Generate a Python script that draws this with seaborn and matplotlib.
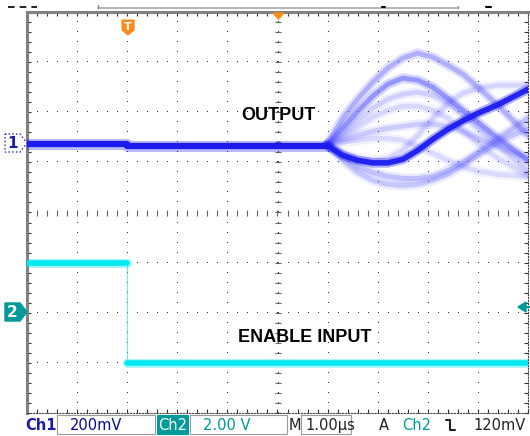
import numpy as np
import pandas as pd
import matplotlib
matplotlib.use('Agg')
import matplotlib.pyplot as plt
from matplotlib.patches import Polygon, Rectangle
import seaborn as sns

# scope settings
CH1_SCALE = 200.0      # mV/div
CH1_OFFSET = 1.36      # div (ground marker "1")
CH2_SCALE = 2.0        # V/div
CH2_OFFSET = -2.0      # div (ground marker "2")

# Ch1 OUTPUT: flat part (all sweeps overlap), time in us from trigger
T_FLAT = [-2.0, 0.0, 0.0, 4.0]
MV_FLAT = [2, 2, -6, -6]

# Ch1 OUTPUT: persistence sweeps after the response starts
T_RESP = [4.0, 4.3, 4.6, 4.9, 5.2, 5.5, 5.8, 6.1, 6.4, 6.7, 7.0, 7.4, 8.0]
sweeps = {
    'main': [-6, -44, -64, -74, -74, -60, -24, 20, 60, 94, 124, 158, 220],
    'a': [0, 104, 180, 248, 304, 344, 364, 348, 316, 280, 228, 156, 36],
    'b': [0, 64, 132, 192, 240, 264, 256, 228, 184, 136, 88, 24, -64],
    'c': [0, 40, 96, 144, 180, 200, 208, 196, 164, 116, 64, -4, -104],
    'd': [0, 28, 68, 108, 136, 152, 152, 136, 104, 56, 4, -56, -124],
    'e': [0, 16, 36, 52, 64, 72, 80, 80, 72, 52, 24, -8, -56],
    'f': [0, -48, -88, -112, -128, -136, -136, -128, -104, -72, -32, 24, 104],
    'g': [0, -64, -112, -144, -160, -164, -160, -144, -120, -84, -44, 8, 64],
    'h': [0, 8, 16, 24, 24, 16, -8, -36, -64, -88, -108, -120, -128],
    'i': [0, -32, -56, -64, -56, -24, 36, 104, 164, 204, 224, 236, 236],
}
sweep_alpha = {'main': 0.95, 'a': 0.32, 'b': 0.45, 'c': 0.18, 'd': 0.15,
               'e': 0.2, 'f': 0.25, 'g': 0.22, 'h': 0.14, 'i': 0.16}

# Ch2 ENABLE INPUT
T_EN = [-2.0, 0.0, 0.0, 8.0]
V_EN = [2.0, 2.0, -2.0, -2.0]
SEG_EN = [0, 0, 1, 1]

BLUE = '#1c1cf0'
FAINT = '#4a4aff'
CYAN = '#00e8f2'
TEAL = '#009a9a'
ORANGE = '#ff8a1c'

sns.set_style('white')
plt.rcParams['font.family'] = ['DejaVu Sans']

fig = plt.figure(figsize=(5.30, 4.36), dpi=100)
W, H = 530, 436
ax = fig.add_axes([27 / W, (H - 413) / H, 501 / W, 401 / H])
ax.set_xlim(-2, 8)
ax.set_ylim(-4, 4)

# graticule: dotted division lines
xs_major = np.arange(-2, 8.01, 1.0)
ys_major = np.arange(-4, 4.01, 1.0)
fine_x = np.arange(-2, 8.01, 0.2)
fine_y = np.arange(-4, 4.01, 0.2)
for xv in xs_major[1:-1]:
    ax.plot(np.full_like(fine_y, xv), fine_y, ',', color='#333333', zorder=1)
for yv in ys_major[1:-1]:
    ax.plot(fine_x, np.full_like(fine_x, yv), ',', color='#333333', zorder=1)
# centre cross with small ticks
ax.plot(np.full_like(fine_y, 3.0), fine_y, '_', ms=4, mew=0.8, color='#666666', zorder=1)
ax.plot(fine_x, np.zeros_like(fine_x), '|', ms=4, mew=0.8, color='#666666', zorder=1)

ax.set_xticks(fine_x, minor=True)
ax.set_yticks(fine_y, minor=True)
ax.set_xticks([])
ax.set_yticks([])
ax.tick_params(which='minor', direction='in', length=3, width=0.8, color='#333333',
               top=True, right=True, bottom=True, left=True,
               labelbottom=False, labelleft=False)
for side in ['left', 'top']:
    ax.spines[side].set_color('#808080')
    ax.spines[side].set_linewidth(2.2)
for side in ['right', 'bottom']:
    ax.spines[side].set_color('#444444')
    ax.spines[side].set_linewidth(0.8)
    ax.spines[side].set_linestyle(':')

# Ch1 traces
rows = []
for name, vals in sweeps.items():
    for t, mv in zip(T_RESP, vals):
        rows.append({'sweep': name, 't': t, 'div': CH1_OFFSET + mv / CH1_SCALE})
df_out = pd.DataFrame(rows)
df_flat = pd.DataFrame({'t': T_FLAT, 'div': [CH1_OFFSET + m / CH1_SCALE for m in MV_FLAT]})

for name in sweeps:
    if name == 'main':
        continue
    d = df_out[df_out['sweep'] == name]
    a = sweep_alpha[name]
    sns.lineplot(data=d, x='t', y='div', sort=False, estimator=None, color=FAINT,
                 alpha=a * 0.5, lw=7, ax=ax, zorder=3, solid_joinstyle='round')
    sns.lineplot(data=d, x='t', y='div', sort=False, estimator=None, color=FAINT,
                 alpha=a, lw=3.5, ax=ax, zorder=3, solid_joinstyle='round')
d = df_out[df_out['sweep'] == 'main']
sns.lineplot(data=d, x='t', y='div', sort=False, estimator=None, color=BLUE,
             alpha=0.35, lw=7, ax=ax, zorder=4, solid_joinstyle='round')
sns.lineplot(data=d, x='t', y='div', sort=False, estimator=None, color=BLUE,
             alpha=0.95, lw=4, ax=ax, zorder=4, solid_joinstyle='round')
sns.lineplot(data=df_flat, x='t', y='div', sort=False, estimator=None, color=BLUE,
             alpha=0.3, lw=8, ax=ax, zorder=4)
sns.lineplot(data=df_flat, x='t', y='div', sort=False, estimator=None, color=BLUE,
             alpha=1.0, lw=4.5, ax=ax, zorder=4)

# Ch2 trace
df_en = pd.DataFrame({'t': T_EN, 'div': [CH2_OFFSET + v / CH2_SCALE for v in V_EN], 'seg': SEG_EN})
sns.lineplot(data=df_en, x='t', y='div', sort=False, estimator=None, color=CYAN,
             lw=0.8, alpha=0.6, ax=ax, zorder=3)
sns.lineplot(data=df_en, x='t', y='div', units='seg', sort=False, estimator=None,
             color=CYAN, lw=6.5, alpha=0.35, ax=ax, zorder=3)
sns.lineplot(data=df_en, x='t', y='div', units='seg', sort=False, estimator=None,
             color=CYAN, lw=4.0, ax=ax, zorder=3)

ax.text(3.01, 1.94, 'OUTPUT', ha='center', va='center', fontsize=13,
        fontweight='bold', family='Liberation Sans', color='black', zorder=5)
ax.text(3.55, -2.49, 'ENABLE INPUT', ha='center', va='center', fontsize=13,
        fontweight='bold', family='Liberation Sans', color='black', zorder=5)
ax.set_xlabel('')
ax.set_ylabel('')

# overlay in pixel coordinates for scope chrome
ov = fig.add_axes([0, 0, 1, 1], zorder=10)
ov.set_xlim(0, W)
ov.set_ylim(H, 0)
ov.axis('off')
ov.patch.set_alpha(0)

# top record bar
ov.plot([8, 37], [7, 7], color='black', lw=1.2, ls=(0, (4, 3)))
ov.plot([98, 458], [8.5, 8.5], color='#a8a8a8', lw=1.2)
ov.plot([98, 98], [5, 8.5], color='#888888', lw=1)
ov.plot([458, 458], [6, 8.5], color='#888888', lw=1)
ov.plot([382, 385], [7, 7], color='black', lw=1.5)
ov.plot([486, 491], [7.5, 7.5], color='black', lw=1.5)

# trigger markers
ov.add_patch(Polygon([(122, 20), (134, 20), (134, 30), (128, 35), (122, 30)],
                     closed=True, fc=ORANGE, ec=ORANGE, lw=0.8))
ov.text(128, 26.5, 'T', ha='center', va='center', fontsize=8, fontweight='bold', color='white')
ov.add_patch(Polygon([(273, 13), (284, 13), (278.5, 19)], closed=True, fc=ORANGE, ec=ORANGE))
ov.add_patch(Polygon([(518, 307), (526, 302), (526, 312)], closed=True, fc=TEAL, ec=TEAL))
ov.plot([525, 530], [307, 307], color=TEAL, lw=1.5)

# channel ground markers
ov.add_patch(Polygon([(5, 134), (20, 134), (27, 143), (20, 152), (5, 152)],
                     closed=True, fc='white', ec='#2020c0', lw=1.0, ls=':'))
ov.text(12.5, 143.5, '1', ha='center', va='center', fontsize=11, fontweight='bold', color='#1a1aa0')
ov.add_patch(Polygon([(5, 303), (20, 303), (27, 312), (20, 321), (5, 321)],
                     closed=True, fc=TEAL, ec=TEAL, lw=1.0))
ov.text(12.5, 312.5, '2', ha='center', va='center', fontsize=11, fontweight='bold', color='white')

# status bar
fs = 10.5
ov.text(25, 425, 'Ch1', ha='left', va='center', fontsize=fs, fontweight='bold', color='#1a1ab0')
ov.add_patch(Rectangle((57, 415), 98, 19, fc='white', ec='#9a9a9a', lw=0.8))
ov.text(70, 425, '200mV', ha='left', va='center', fontsize=fs, color='#0a0a90')
ov.add_patch(Rectangle((157, 415), 31, 19, fc=TEAL, ec=TEAL, lw=0.8))
ov.text(172.5, 425, 'Ch2', ha='center', va='center', fontsize=fs, color='white')
ov.add_patch(Rectangle((190, 415), 97, 19, fc='white', ec='#9a9a9a', lw=0.8))
ov.text(203, 425, '2.00 V', ha='left', va='center', fontsize=fs, color=TEAL)
ov.text(289, 425, 'M', ha='left', va='center', fontsize=fs, color='#222222')
ov.add_patch(Rectangle((301, 415), 50, 19, fc='white', ec='#9a9a9a', lw=0.8))
ov.text(305, 425, '1.00\u00b5s', ha='left', va='center', fontsize=fs, color='#222222')
ov.text(379, 425, 'A', ha='left', va='center', fontsize=fs, color='#222222')
ov.text(402, 425, 'Ch2', ha='left', va='center', fontsize=fs, color=TEAL)
ov.plot([446, 450, 450, 455], [420, 420, 430, 430], color='#222222', lw=1.5)
ov.text(526, 425, '120mV', ha='right', va='center', fontsize=fs, color='#222222')

fig.savefig('out.png', dpi=100)
